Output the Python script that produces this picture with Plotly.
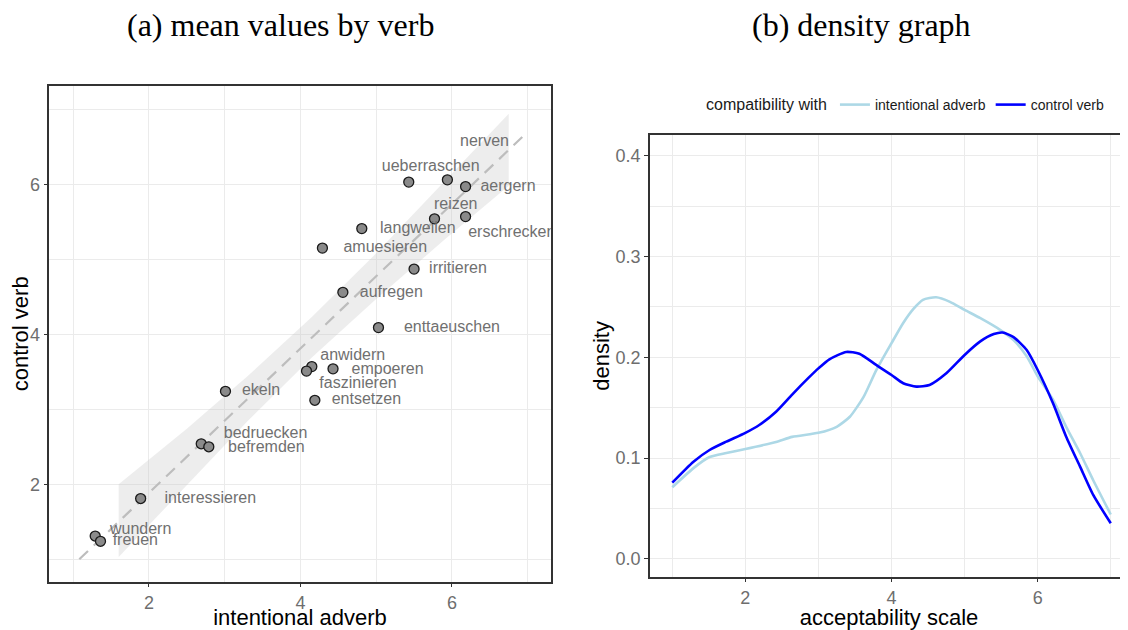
import plotly.graph_objects as go

# ---------------- data: panel (a) ----------------
verbs = ["ueberraschen", "nerven", "aergern", "reizen", "erschrecken", "langweilen",
         "amuesieren", "irritieren", "aufregen", "enttaeuschen", "anwidern", "faszinieren",
         "empoeren", "entsetzen", "ekeln", "bedruecken", "befremden", "interessieren",
         "wundern", "freuen"]
adverb_mean = [5.43, 5.94, 6.18, 5.77, 6.18, 4.81, 4.29, 5.50, 4.56, 5.03, 4.15, 4.08,
               4.43, 4.19, 3.01, 2.69, 2.79, 1.89, 1.29, 1.36]
control_mean = [6.03, 6.06, 5.97, 5.54, 5.57, 5.41, 5.15, 4.87, 4.56, 4.09, 3.57, 3.51,
                3.54, 3.12, 3.24, 2.54, 2.50, 1.81, 1.31, 1.24]
# repelled label offsets (data units)
label_dx = [0.29, 0.49, 0.56, 0.28, 0.61, 0.74, 0.83, 0.58, 0.64, 0.97, 0.54, 0.68,
            0.72, 0.68, 0.47, 0.85, 0.76, 0.92, 0.60, 0.46]
label_dy = [0.195, 0.50, 0.0, 0.19, -0.22, -0.01, 0.0, 0.0, -0.01, 0.0, 0.135, -0.17,
            -0.02, 0.0, 0.0, 0.135, -0.01, -0.01, 0.085, 0.0]

fit_x = [1.08, 6.99]
fit_y = [1.00, 6.69]
band_x = [1.60, 2.50, 3.30, 4.15, 5.00, 5.90, 6.75]
band_lo = [1.03, 1.99, 2.84, 3.69, 4.47, 5.26, 5.98]
band_hi = [2.00, 2.74, 3.44, 4.23, 5.08, 6.03, 6.94]

# ---------------- data: panel (b) ----------------
adv_x = [1.0, 1.29, 1.51, 1.74, 2.0, 2.42, 2.64, 3.0, 3.25, 3.43, 3.62, 3.79, 4.0, 4.16,
         4.30, 4.43, 4.61, 4.80, 5.0, 5.21, 5.49, 5.67, 5.85, 6.0, 6.21, 6.39, 6.58, 6.76, 7.0]
adv_y = [0.071, 0.090, 0.101, 0.105, 0.109, 0.116, 0.121, 0.125, 0.131, 0.141, 0.161, 0.187,
         0.214, 0.234, 0.248, 0.257, 0.2595, 0.255, 0.247, 0.239, 0.227, 0.217, 0.201, 0.181,
         0.158, 0.131, 0.105, 0.078, 0.044]
ctl_x = [1.0, 1.29, 1.51, 1.74, 2.0, 2.19, 2.42, 2.64, 2.87, 3.0, 3.15, 3.38, 3.56, 3.79,
         4.0, 4.16, 4.34, 4.52, 4.75, 5.0, 5.21, 5.40, 5.52, 5.67, 5.85, 6.0, 6.21, 6.39, 6.58,
         6.76, 7.0]
ctl_y = [0.0756, 0.0964, 0.108, 0.1163, 0.125, 0.1328, 0.146, 0.163, 0.180, 0.189, 0.198,
         0.2053, 0.2035, 0.1924, 0.1824, 0.1742, 0.1709, 0.1725, 0.1841, 0.2023, 0.2155, 0.2230,
         0.2245, 0.2200, 0.2072, 0.1874, 0.1544, 0.1212, 0.0915, 0.0634, 0.0353]

# page has an 8px body margin: the figure div starts at (8, 8)
OFF = 8
W, H = 1128 - OFF, 630 - OFF
GRID = "#EBEBEB"
TICKC = "#6E6E6E"


def px(x):
    return (x - OFF) / W


def py(y):
    return (H - (y - OFF)) / H


fig = go.Figure()

fig.add_trace(go.Scatter(x=band_x + band_x[::-1], y=band_hi + band_lo[::-1],
                         fill="toself", fillcolor="rgba(195,195,195,0.3)",
                         line=dict(width=0), mode="lines", hoverinfo="skip",
                         showlegend=False, xaxis="x", yaxis="y"))
fig.add_trace(go.Scatter(x=fit_x, y=fit_y, mode="lines",
                         line=dict(color="#BDBDBD", width=2.2, dash="12px,8px"),
                         showlegend=False, xaxis="x", yaxis="y"))
fig.add_trace(go.Scatter(x=adverb_mean, y=control_mean, mode="markers",
                         marker=dict(size=10, color="#8A8A8A",
                                     line=dict(color="#1A1A1A", width=1.3)),
                         showlegend=False, xaxis="x", yaxis="y"))
lx = [a + d for a, d in zip(adverb_mean, label_dx)]
ly = [c + d for c, d in zip(control_mean, label_dy)]
fig.add_trace(go.Scatter(x=lx, y=ly, mode="text", text=verbs, textposition="middle center",
                         textfont=dict(family="Arial, Liberation Sans", size=16, color="#707070"),
                         cliponaxis=True, showlegend=False, xaxis="x", yaxis="y"))

fig.add_trace(go.Scatter(x=adv_x, y=adv_y, mode="lines", name="intentional adverb",
                         line=dict(color="#ADD8E6", width=2.6, shape="spline", smoothing=0.6),
                         xaxis="x2", yaxis="y2"))
fig.add_trace(go.Scatter(x=ctl_x, y=ctl_y, mode="lines", name="control verb",
                         line=dict(color="#0000FF", width=2.6, shape="spline", smoothing=0.6),
                         xaxis="x2", yaxis="y2"))

axis_common = dict(showgrid=True, gridcolor=GRID, gridwidth=1.2, zeroline=False,
                   ticks="outside", ticklen=4, tickcolor="#333333", tickwidth=1.2,
                   tickfont=dict(family="Arial, Liberation Sans", size=18, color=TICKC),
                   showline=True, linecolor="#333333", linewidth=1.5)
title_font = dict(family="Arial, Liberation Sans", size=22, color="black")

fig.update_layout(
    width=W, height=H, margin=dict(l=0, r=0, t=0, b=0),
    paper_bgcolor="white", plot_bgcolor="white",
    xaxis=dict(axis_common, domain=[px(49.3), px(550.7)], range=[0.684, 7.304],
               tickvals=[2, 4, 6], mirror=True, anchor="y",
               minor=dict(tickvals=[1, 3, 5, 7], showgrid=True, gridcolor=GRID, gridwidth=0.8, ticks=""),
               title=dict(text="intentional adverb", standoff=2, font=title_font)),
    yaxis=dict(axis_common, domain=[py(581.7), py(86)], range=[0.701, 7.311],
               tickvals=[2, 4, 6], mirror=True, anchor="x",
               minor=dict(tickvals=[1, 3, 5, 7], showgrid=True, gridcolor=GRID, gridwidth=0.8, ticks=""),
               title=dict(text="control verb", standoff=0, font=title_font)),
    xaxis2=dict(axis_common, domain=[px(650), 1.0], range=[0.695, 7.236],
                tickvals=[2, 4, 6], mirror=True, anchor="y2",
                minor=dict(tickvals=[1, 3, 5, 7], showgrid=True, gridcolor=GRID, gridwidth=0.8, ticks=""),
                title=dict(text="acceptability scale", standoff=0, font=title_font)),
    yaxis2=dict(axis_common, domain=[py(576.5), py(135.2)], range=[-0.0175, 0.4203],
                tickvals=[0, 0.1, 0.2, 0.3, 0.4], ticktext=["0.0", "0.1", "0.2", "0.3", "0.4"],
                mirror=False, anchor="x2",
                minor=dict(tickvals=[0.05, 0.15, 0.25, 0.35], showgrid=True, gridcolor=GRID,
                           gridwidth=0.8, ticks=""),
                title=dict(text="density", standoff=0, font=title_font)),
    legend=dict(orientation="h", x=px(704), xanchor="left", y=py(105), yanchor="middle",
                title=dict(text="compatibility with", side="left",
                           font=dict(family="Arial, Liberation Sans", size=16, color="#1A1A1A")),
                font=dict(family="Arial, Liberation Sans", size=14, color="#1A1A1A"),
                itemwidth=30, tracegroupgap=0, bgcolor="rgba(0,0,0,0)"),
    annotations=[
        dict(text="(a) mean values by verb", x=px(280), y=py(25), xref="paper", yref="paper",
             showarrow=False, xanchor="center", yanchor="middle",
             font=dict(family="Liberation Serif, Times New Roman", size=32, color="black")),
        dict(text="(b) density graph", x=px(861), y=py(25), xref="paper", yref="paper",
             showarrow=False, xanchor="center", yanchor="middle",
             font=dict(family="Liberation Serif, Times New Roman", size=32, color="black")),
    ],
)

fig.write_html("out.html")
